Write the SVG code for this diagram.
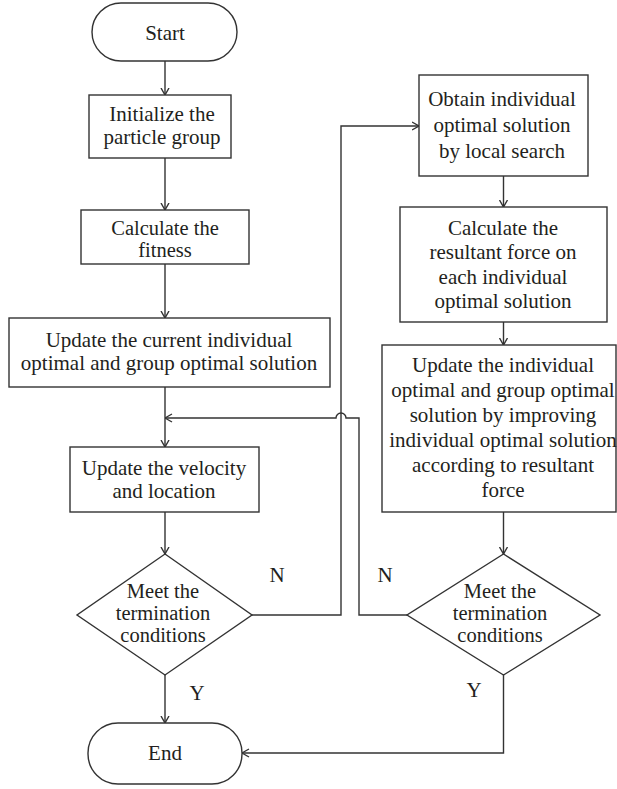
<svg xmlns="http://www.w3.org/2000/svg" width="617" height="789" viewBox="0 0 617 789">
<defs>
<style>
.n{fill:#fff;stroke:#333;stroke-width:1.4}
.c{fill:none;stroke:#333;stroke-width:1.4}
.t{font-family:"Liberation Serif","Times New Roman",serif;font-size:21px;fill:#231f20;text-anchor:middle}
.s{font-size:20.5px}
</style>
<marker id="ah" viewBox="0 0 8 10" refX="7.5" refY="5" markerWidth="8" markerHeight="10" markerUnits="userSpaceOnUse" orient="auto">
<path d="M0.5,1 L7.5,5 L0.5,9" fill="none" stroke="#333" stroke-width="1.4"/>
</marker>
</defs>
<rect width="617" height="789" fill="#fff"/>
<g id="connectors">
<path class="c" d="M165,61 V95" marker-end="url(#ah)"/>
<path class="c" d="M165,158 V210" marker-end="url(#ah)"/>
<path class="c" d="M165,264 V318" marker-end="url(#ah)"/>
<path class="c" d="M165,387 V447" marker-end="url(#ah)"/>
<path class="c" d="M165,512 V554" marker-end="url(#ah)"/>
<path class="c" d="M165,675 V723" marker-end="url(#ah)"/>
<path class="c" d="M503.5,176 V207" marker-end="url(#ah)"/>
<path class="c" d="M503.5,322 V345" marker-end="url(#ah)"/>
<path class="c" d="M503.5,512 V554" marker-end="url(#ah)"/>
<path class="c" d="M503.5,675 V753 H242" marker-end="url(#ah)"/>
<path class="c" d="M252,615 H341 V126 H419" marker-end="url(#ah)"/>
<path class="c" d="M407,615 H359 V418 H346 A5,5 0 0 0 336,418 H165" marker-end="url(#ah)"/>
</g>
<g id="start"><rect class="n" x="92" y="3" width="145" height="58" rx="29" ry="29"/><text class="t" x="165" y="40">Start</text></g>
<g id="init"><rect class="n" x="89" y="95" width="142" height="63"/><text class="t" x="162" y="121">Initialize the</text><text class="t" x="162" y="144">particle group</text></g>
<g id="fitness"><rect class="n" x="81" y="210" width="168" height="54"/><text class="t s" x="165" y="235">Calculate the</text><text class="t s" x="165" y="257">fitness</text></g>
<g id="update-current"><rect class="n" x="9" y="318" width="321" height="69"/><text class="t" x="169" y="347">Update the current individual</text><text class="t" x="169" y="370">optimal and group optimal solution</text></g>
<g id="velocity"><rect class="n" x="70" y="447" width="189" height="65"/><text class="t" x="164" y="475">Update the velocity</text><text class="t" x="164" y="498">and location</text></g>
<g id="cond-left"><polygon class="n" points="165,554 252,615 165,675 77,615"/><text class="t s" x="163" y="598">Meet the</text><text class="t s" x="163" y="620">termination</text><text class="t s" x="163" y="642">conditions</text></g>
<g id="end"><rect class="n" x="88" y="723" width="154" height="61" rx="30" ry="30"/><text class="t" x="165" y="760">End</text></g>
<g id="local-search"><rect class="n" x="419" y="75" width="169" height="101"/><text class="t" x="502" y="106">Obtain individual</text><text class="t" x="502" y="132">optimal solution</text><text class="t" x="502" y="158">by local search</text></g>
<g id="resultant"><rect class="n" x="400" y="207" width="207" height="115"/><text class="t" x="503" y="235">Calculate the</text><text class="t" x="503" y="259">resultant force on</text><text class="t" x="503" y="284">each individual</text><text class="t" x="503" y="308">optimal solution</text></g>
<g id="update-individual"><rect class="n" x="382" y="345" width="234" height="167"/><text class="t" x="503" y="372">Update the individual</text><text class="t" x="503" y="397">optimal and group optimal</text><text class="t" x="503" y="422">solution by improving</text><text class="t" x="503" y="447">individual optimal solution</text><text class="t" x="503" y="472">according to resultant</text><text class="t" x="503" y="497">force</text></g>
<g id="cond-right"><polygon class="n" points="503.5,554 600,615 503.5,675 407,615"/><text class="t s" x="500" y="598">Meet the</text><text class="t s" x="500" y="620">termination</text><text class="t s" x="500" y="642">conditions</text></g>
<g id="labels"><text class="t" x="277" y="582">N</text><text class="t" x="385" y="582">N</text><text class="t" x="197" y="700">Y</text><text class="t" x="474" y="697">Y</text></g>
</svg>
